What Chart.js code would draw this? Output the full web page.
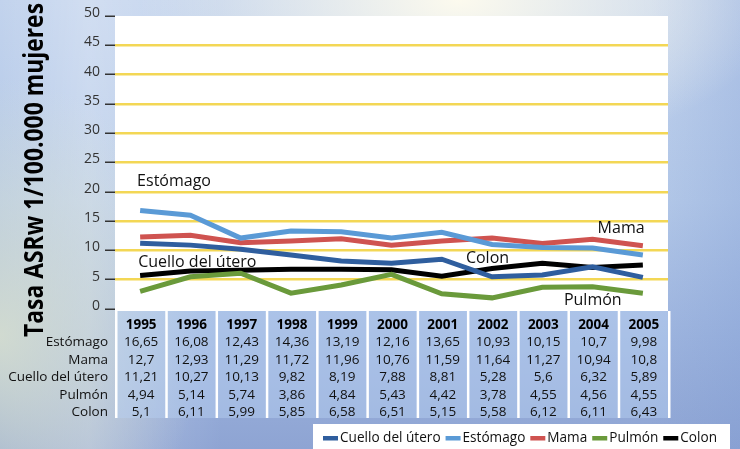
<!DOCTYPE html>
<html>
<head>
<meta charset="utf-8">
<script src="https://cdn.jsdelivr.net/npm/chart.js@4.4.0/dist/chart.umd.min.js"></script>
<style>
    body { margin: 0; }
    #wrap {
        width: 740px;
        height: 449px;
        background:
            radial-gradient(ellipse 320px 160px at 62% 0%, rgba(252,250,238,1) 0%, rgba(252,250,238,0) 100%),
            radial-gradient(ellipse 200px 260px at 0% 75%, rgba(222,228,205,0.8) 0%, rgba(222,228,205,0) 100%),
            linear-gradient(90deg, rgba(255,255,255,0) 0%, rgba(255,255,255,0.25) 12%, rgba(255,255,255,0) 30%, rgba(255,255,255,0) 88%, rgba(120,150,210,0.25) 100%),
            linear-gradient(180deg, #c2d3ed 0%, #b3c8e8 45%, #9db4de 75%, #8ea4d3 100%);
    }
</style>
</head>
<body>
<div id="wrap"><canvas id="chart" width="740" height="449"></canvas></div>
<script>
// years on the x axis
const categories = ['1995', '1996', '1997', '1998', '1999', '2000', '2001', '2002', '2003', '2004', '2005'];

// values as plotted
const cuello = [11.2, 10.9, 10.2, 9.2, 8.2, 7.8, 8.5, 5.5, 5.8, 7.2, 5.4];
const estomago = [16.8, 16.0, 12.1, 13.3, 13.2, 12.1, 13.1, 11.0, 10.5, 10.4, 9.2];
const mama = [12.3, 12.6, 11.3, 11.6, 12.0, 10.9, 11.6, 12.1, 11.2, 11.9, 10.8];
const pulmon = [3.0, 5.5, 6.1, 2.7, 4.1, 5.9, 2.6, 1.9, 3.7, 3.8, 2.7];
const colon = [5.7, 6.5, 6.6, 6.8, 6.8, 6.7, 5.6, 6.9, 7.8, 7.1, 7.5];

// values printed in the data table under the chart
const tableEstomago = ['16,65', '16,08', '12,43', '14,36', '13,19', '12,16', '13,65', '10,93', '10,15', '10,7', '9,98'];
const tableMama = ['12,7', '12,93', '11,29', '11,72', '11,96', '10,76', '11,59', '11,64', '11,27', '10,94', '10,8'];
const tableCuello = ['11,21', '10,27', '10,13', '9,82', '8,19', '7,88', '8,81', '5,28', '5,6', '6,32', '5,89'];
const tablePulmon = ['4,94', '5,14', '5,74', '3,86', '4,84', '5,43', '4,42', '3,78', '4,55', '4,56', '4,55'];
const tableColon = ['5,1', '6,11', '5,99', '5,85', '6,58', '6,51', '5,15', '5,58', '6,12', '6,11', '6,43'];

const yTitle = 'Tasa ASRw 1/100.000 mujeres';

document.addEventListener('DOMContentLoaded', () => {
    const FONT = '"Open Sans", "Noto Sans", sans-serif';

    const series = [
        { label: 'Cuello del útero', data: cuello, color: '#2f5e9e' },
        { label: 'Estómago', data: estomago, color: '#5a9ad6' },
        { label: 'Mama', data: mama, color: '#cf5350' },
        { label: 'Pulmón', data: pulmon, color: '#6a9a3b' },
        { label: 'Colon', data: colon, color: '#000000' }
    ];

    const tableRows = [
        { label: 'Estómago', values: tableEstomago },
        { label: 'Mama', values: tableMama },
        { label: 'Cuello del útero', values: tableCuello },
        { label: 'Pulmón', values: tablePulmon },
        { label: 'Colon', values: tableColon }
    ];

    // text labels inside the plot, placed in data units
    const notes = [
        { text: 'Estómago', x: -0.06, y: 21.7 },
        { text: 'Cuello del útero', x: -0.04, y: 8.0 },
        { text: 'Colon', x: 6.48, y: 8.7 },
        { text: 'Mama', x: 9.1, y: 13.8 },
        { text: 'Pulmón', x: 8.43, y: 1.5 }
    ];

    const whiteArea = {
        id: 'whiteArea',
        beforeDraw(chart) {
            const { ctx, chartArea: a } = chart;
            ctx.save();
            ctx.fillStyle = '#ffffff';
            ctx.fillRect(a.left, a.top, a.right - a.left, a.bottom - a.top + 2);
            ctx.restore();
        }
    };

    const extras = {
        id: 'extras',
        afterDraw(chart) {
            const { ctx, chartArea: a } = chart;
            const xs = chart.scales.x;
            const ys = chart.scales.y;
            const step = xs.getPixelForValue(1) - xs.getPixelForValue(0);
            ctx.save();

            // notes in plot
            ctx.font = '16px ' + FONT;
            ctx.fillStyle = '#111';
            ctx.textAlign = 'left';
            ctx.textBaseline = 'middle';
            notes.forEach(n => {
                ctx.fillText(n.text, xs.getPixelForValue(n.x), ys.getPixelForValue(n.y));
            });

            // data table
            const top = a.bottom + 2;
            const bottom = 418;
            for (let i = 0; i < categories.length; i++) {
                const cx = xs.getPixelForValue(i);
                ctx.fillStyle = 'rgba(185,208,242,0.45)';
                ctx.fillRect(cx - step / 2, top, step, bottom - top);
            }
            ctx.fillStyle = '#ffffff';
            for (let i = 0; i <= categories.length; i++) {
                const bx = xs.getPixelForValue(i) - step / 2;
                ctx.fillRect(bx, top, 2.5, bottom - top);
            }
            ctx.textAlign = 'center';
            ctx.fillStyle = '#000';
            ctx.font = 'bold 13.5px ' + FONT;
            categories.forEach((c, i) => ctx.fillText(c, xs.getPixelForValue(i) + 1, 325));
            ctx.font = '13.5px ' + FONT;
            ctx.fillStyle = '#111';
            tableRows.forEach((row, r) => {
                const y = 342.3 + r * 17.5;
                ctx.textAlign = 'right';
                ctx.fillText(row.label, 108, y);
                ctx.textAlign = 'center';
                row.values.forEach((v, i) => ctx.fillText(v, xs.getPixelForValue(i) + 1, y));
            });

            // legend box
            ctx.fillStyle = '#ffffff';
            ctx.fillRect(313, 424, 417, 25);
            ctx.font = '13.6px ' + FONT;
            ctx.textAlign = 'left';
            let lx = 323;
            series.forEach(s => {
                ctx.fillStyle = s.color;
                ctx.fillRect(lx, 436, 15, 4.5);
                ctx.fillStyle = '#111';
                ctx.fillText(s.label, lx + 17, 438);
                lx += 17 + ctx.measureText(s.label).width + 5;
            });

            // y axis title, squeezed to its length in the picture
            ctx.font = 'bold 26px ' + FONT;
            const w = ctx.measureText(yTitle).width;
            ctx.translate(43, 170);
            ctx.rotate(-Math.PI / 2);
            ctx.scale(334 / w, 1);
            ctx.textAlign = 'center';
            ctx.textBaseline = 'alphabetic';
            ctx.fillStyle = '#000';
            ctx.fillText(yTitle, 0, 0);
            ctx.restore();
        }
    };

    new Chart(document.getElementById('chart'), {
        type: 'line',
        data: {
            labels: categories,
            datasets: series.map(s => ({
                label: s.label,
                data: s.data,
                borderColor: s.color,
                backgroundColor: s.color,
                borderWidth: 5,
                pointRadius: 0,
                tension: 0,
                fill: false
            }))
        },
        options: {
            responsive: false,
            animation: false,
            layout: { padding: { left: 0, right: 72, top: 16, bottom: 140 } },
            plugins: {
                legend: { display: false },
                tooltip: { enabled: false }
            },
            scales: {
                x: {
                    display: false,
                    offset: true
                },
                y: {
                    min: 0,
                    max: 50,
                    afterFit: (scale) => { scale.width = 115; },
                    border: { display: false },
                    grid: {
                        color: (c) => (c.tick && c.tick.value > 0 && c.tick.value < 50) ? '#f3d755' : 'rgba(0,0,0,0)',
                        lineWidth: 2.5,
                        tickColor: '#333',
                        tickLength: 10,
                        tickWidth: 1.5
                    },
                    ticks: {
                        stepSize: 5,
                        color: '#333',
                        padding: 5,
                        labelOffset: -3,
                        font: { size: 14, family: FONT }
                    }
                }
            }
        },
        plugins: [whiteArea, extras]
    });
});
</script>
</body>
</html>
